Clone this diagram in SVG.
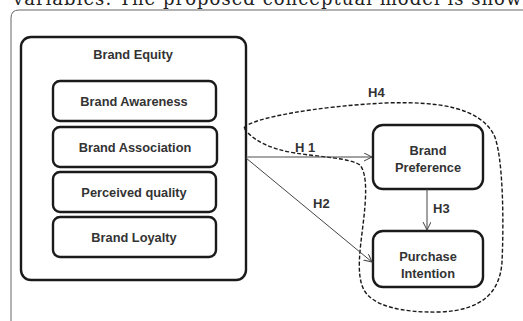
<svg xmlns="http://www.w3.org/2000/svg" width="523" height="321" viewBox="0 0 523 321">
<defs>
<style>
.box{fill:#fff;stroke:#1a1a1a;stroke-width:2.4}
.lbl{font-family:"Liberation Sans",Arial,sans-serif;font-weight:bold;font-size:12.8px;fill:#333;text-anchor:middle}
.h{font-family:"Liberation Sans",Arial,sans-serif;font-weight:bold;font-size:13px;fill:#333}
.conn{stroke:#444;stroke-width:1;fill:none}
.dash{stroke:#1a1a1a;stroke-width:1.4;fill:none;stroke-dasharray:4 2}
</style>
<marker id="arr" markerWidth="9" markerHeight="9" refX="8" refY="4" orient="auto" markerUnits="userSpaceOnUse">
<path d="M0,0 L8,4 L0,8" fill="none" stroke="#444" stroke-width="1"/>
</marker>
</defs>
<rect width="523" height="321" fill="#fff"/>
<text font-family="'DejaVu Serif','Liberation Serif',serif" font-size="18" fill="#222" y="5"><tspan x="-8">y</tspan><tspan x="13" textLength="521" lengthAdjust="spacing">variables. The proposed conceptual model is shown</tspan></text>
<path d="M11 321 L11 18 Q11 10 19 10 L523 10" fill="none" stroke="#666" stroke-width="1"/>
<g id="brand-equity">
<rect class="box" x="21" y="37" width="225" height="243" rx="10"/>
<text class="lbl" x="133" y="59">Brand Equity</text>
</g>
<g id="brand-awareness">
<rect class="box" x="53" y="81" width="163" height="40" rx="7"/>
<text class="lbl" x="134" y="106">Brand Awareness</text>
</g>
<g id="brand-association">
<rect class="box" x="53" y="127" width="164" height="40" rx="7"/>
<text class="lbl" x="135" y="152">Brand Association</text>
</g>
<g id="perceived-quality">
<rect class="box" x="53" y="172" width="163" height="40" rx="7"/>
<text class="lbl" x="134" y="197">Perceived quality</text>
</g>
<g id="brand-loyalty">
<rect class="box" x="53" y="217" width="163" height="40" rx="7"/>
<text class="lbl" x="134" y="242">Brand Loyalty</text>
</g>
<g id="brand-preference">
<rect class="box" x="373" y="125" width="110" height="64" rx="10"/>
<text class="lbl" x="428" y="155" font-size="13">Brand</text>
<text class="lbl" x="428" y="172" font-size="13">Preference</text>
</g>
<g id="purchase-intention">
<rect class="box" x="373" y="231" width="110" height="56" rx="10"/>
<text class="lbl" x="428" y="261" font-size="13">Purchase</text>
<text class="lbl" x="428" y="278" font-size="13">Intention</text>
</g>
<g id="connectors">
<path class="dash" d="M244 128 C250 118 320 106 385 103 C440 101 480 108 494 135 C503 155 504 220 502 262 C500 290 485 310 440 312 C400 313 372 305 364 290 C356 275 360 250 363 225 C366 200 368 175 360 165 C350 158 320 157 295 153 C270 149 252 140 244 128 Z"/>
<line class="conn" x1="246" y1="157" x2="372" y2="157" marker-end="url(#arr)"/>
<line x1="247" y1="157" x2="285" y2="157" stroke="#aaa" stroke-width="1.6"/>
<line class="conn" x1="246" y1="158" x2="372" y2="262" marker-end="url(#arr)"/>
<line class="conn" x1="427" y1="189" x2="427" y2="230" marker-end="url(#arr)"/>
<text class="h" x="295" y="152">H 1</text>
<text class="h" x="313" y="208">H2</text>
<text class="h" x="433" y="213">H3</text>
<text class="h" x="368" y="97">H4</text>
</g>
</svg>
